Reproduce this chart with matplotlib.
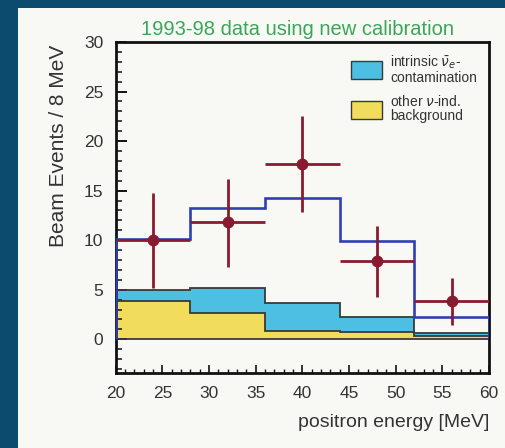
import matplotlib
matplotlib.use("Agg")
import matplotlib.pyplot as plt
from matplotlib.patches import Patch, Rectangle
from matplotlib.ticker import MultipleLocator
import numpy as np

plt.rcParams["font.family"] = ["Liberation Sans", "DejaVu Sans"]

# Energy bins [MeV]
bin_edges = [20, 28, 36, 44, 52, 60]

# Expected beam events per bin
other_bkg = [3.85, 2.65, 0.85, 0.75, 0.30]          # other nu-induced background
intrinsic_nue = [1.15, 2.50, 2.85, 1.55, 0.30]      # intrinsic anti-nu_e contamination
total_expect = [10.10, 13.25, 14.30, 9.93, 2.25]    # total expectation

# Measured beam events
data_x = [24, 32, 40, 48, 56]
data_y = [10.0, 11.8, 17.7, 7.9, 3.87]
err_low = [4.85, 4.50, 4.90, 3.63, 2.42]
err_high = [4.80, 4.40, 4.85, 3.55, 2.33]
half_bin = [4, 4, 4, 4, 4]

x_ticks = [20, 25, 30, 35, 40, 45, 50, 55, 60]
y_ticks = [0, 5, 10, 15, 20, 25, 30]

CYAN = "#4dbfe3"
YELLOW = "#f1dc5c"
BLUE = "#2f3fb3"
DARKRED = "#8a1a30"
OUTLINE = "#3a3a3a"
PANEL = "#f8f8f5"
BG = "#0c4a6e"

fig = plt.figure(figsize=(5.06, 4.48), dpi=100, facecolor=BG)
panel = Rectangle((18 / 506, 0), 1 - 18 / 506, 1 - 8 / 448,
                  transform=fig.transFigure, facecolor=PANEL,
                  edgecolor="none", zorder=-10)
fig.add_artist(panel)

ax = fig.add_axes([115.7 / 506, 1 - 373 / 448, 373.3 / 506, 331 / 448])
ax.set_facecolor(PANEL)

edges = np.array(bin_edges)
yel = np.array(other_bkg)
cyan_top = yel + np.array(intrinsic_nue)

ax.stairs(yel, edges, baseline=0, fill=True, color=YELLOW, zorder=1)
ax.stairs(cyan_top, edges, baseline=yel, fill=True, color=CYAN, zorder=1)
ax.stairs(yel, edges, baseline=None, color=OUTLINE, lw=1.3, zorder=2)
ax.stairs(cyan_top, edges, baseline=None, color=OUTLINE, lw=1.3, zorder=2)
ax.axhline(0, color=OUTLINE, lw=1.3, zorder=2)

ax.stairs(total_expect, edges, baseline=0, color=BLUE, lw=1.9, zorder=3)

ax.errorbar(data_x, data_y, yerr=[err_low, err_high], xerr=half_bin,
            fmt="o", color=DARKRED, ms=7.5, elinewidth=2.0, capsize=0, zorder=4)

ax.set_xlim(20, 60)
ax.set_ylim(-3.4, 30)
ax.set_xticks(x_ticks)
ax.set_yticks(y_ticks)
ax.xaxis.set_minor_locator(MultipleLocator(1))
ax.yaxis.set_minor_locator(MultipleLocator(1))
ax.tick_params(which="both", direction="in", top=False, right=False,
               colors="#111111", labelcolor="#333333", labelsize=12.5)
ax.tick_params(axis="y", which="major", length=8, width=1.4, pad=9)
ax.tick_params(axis="y", which="minor", length=4, width=1.1)
ax.tick_params(axis="x", which="major", length=6, width=1.2, pad=9)
ax.tick_params(axis="x", which="minor", length=3, width=1.0)
for s in ax.spines.values():
    s.set_linewidth(2.0)
    s.set_color("#111111")

ax.set_xlabel("positron energy [MeV]", fontsize=14, color="#333333", loc="right")
ax.xaxis.set_label_coords(1.0, -0.125)
ax.set_ylabel("Beam Events / 8 MeV", fontsize=15, color="#333333")
ax.yaxis.set_label_coords(-0.128, 0.686)

ax.set_title("1993-98 data using new calibration", fontsize=14.5,
             color="#3aa65a", x=0.488, pad=5)

handles = [Patch(facecolor=CYAN, edgecolor=OUTLINE, lw=1.0),
           Patch(facecolor=YELLOW, edgecolor=OUTLINE, lw=1.0)]
labels = ["intrinsic $\\bar{\\nu}_e$-\ncontamination",
          "other $\\nu$-ind.\nbackground"]
leg = ax.legend(handles, labels, loc="upper left",
                bbox_to_anchor=(0.603, 0.994), frameon=False,
                fontsize=10, handlelength=2.3, handleheight=1.6,
                handletextpad=0.55, labelspacing=0.65, borderpad=0.2)
for t in leg.get_texts():
    t.set_color("#333333")
    t.set_linespacing(1.0)

fig.savefig("out.png", dpi=100, facecolor=BG)
